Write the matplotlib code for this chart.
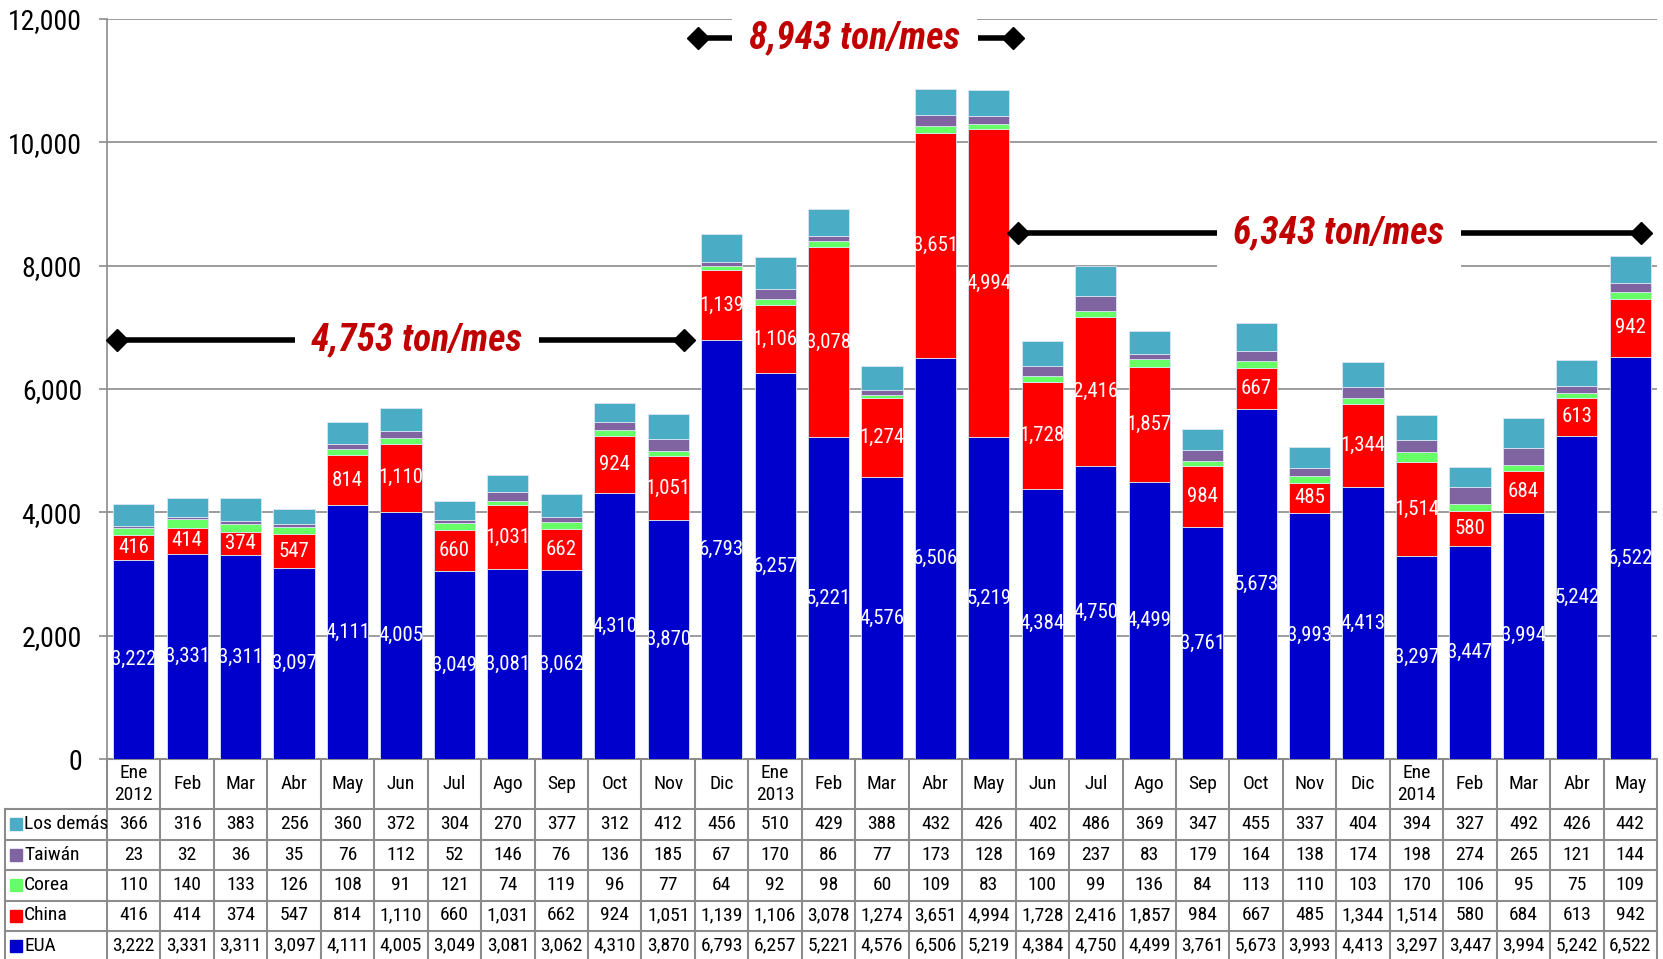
import matplotlib
matplotlib.use('Agg')
import matplotlib.pyplot as plt
from matplotlib import font_manager
from matplotlib.lines import Line2D
from matplotlib.transforms import blended_transform_factory
from matplotlib.ticker import FuncFormatter, MultipleLocator
import numpy as np

# ---------------- data ----------------
months = ['Ene\n2012', 'Feb', 'Mar', 'Abr', 'May', 'Jun', 'Jul', 'Ago', 'Sep', 'Oct', 'Nov', 'Dic',
          'Ene\n2013', 'Feb', 'Mar', 'Abr', 'May', 'Jun', 'Jul', 'Ago', 'Sep', 'Oct', 'Nov', 'Dic',
          'Ene\n2014', 'Feb', 'Mar', 'Abr', 'May']
eua = [3222, 3331, 3311, 3097, 4111, 4005, 3049, 3081, 3062, 4310, 3870, 6793,
       6257, 5221, 4576, 6506, 5219, 4384, 4750, 4499, 3761, 5673, 3993, 4413,
       3297, 3447, 3994, 5242, 6522]
china = [416, 414, 374, 547, 814, 1110, 660, 1031, 662, 924, 1051, 1139,
         1106, 3078, 1274, 3651, 4994, 1728, 2416, 1857, 984, 667, 485, 1344,
         1514, 580, 684, 613, 942]
corea = [110, 140, 133, 126, 108, 91, 121, 74, 119, 96, 77, 64,
         92, 98, 60, 109, 83, 100, 99, 136, 84, 113, 110, 103,
         170, 106, 95, 75, 109]
taiwan = [23, 32, 36, 35, 76, 112, 52, 146, 76, 136, 185, 67,
          170, 86, 77, 173, 128, 169, 237, 83, 179, 164, 138, 174,
          198, 274, 265, 121, 144]
los_demas = [366, 316, 383, 256, 360, 372, 304, 270, 377, 312, 412, 456,
             510, 429, 388, 432, 426, 402, 486, 369, 347, 455, 337, 404,
             394, 327, 492, 426, 442]

series_names = ['EUA', 'China', 'Corea', 'Taiwán', 'Los demás']
series_values = [eua, china, corea, taiwan, los_demas]
series_colors = ['#0000CC', '#FF0000', '#66FF66', '#8064A2', '#4BACC6']

# period averages: label, y level, x range (left/right end), text centre
period_labels = ['4,753 ton/mes', '8,943 ton/mes', '6,343 ton/mes']
period_y = [6800, 11700, 8530]
period_x0 = [-0.32, 10.56, 16.55]
period_x1 = [10.30, 16.45, 28.21]
period_gap = [(3.01, 7.58), (11.19, 15.79), (20.26, 24.84)]
period_xtext = [5.30, 13.49, 22.55]

# ---------------- fonts ----------------
def pick_font(names):
    for nm in names:
        try:
            font_manager.findfont(font_manager.FontProperties(family=nm), fallback_to_default=False)
            return nm
        except Exception:
            pass
    return 'DejaVu Sans'

NARROW = pick_font(['Roboto Condensed', 'Archivo Narrow', 'Liberation Sans'])
plt.rcParams['font.family'] = [NARROW, 'DejaVu Sans']

W, H = 1663, 959
fig = plt.figure(figsize=(W / 100, H / 100), dpi=100)
L, R, T, B = 107, 1657, 19, 759
ax = fig.add_axes([L / W, 1 - B / H, (R - L) / W, (B - T) / H])

n = len(months)
x = np.arange(n)
bottom = np.zeros(n)
for name, vals, col in zip(series_names, series_values, series_colors):
    vals = np.array(vals, dtype=float)
    ax.bar(x, vals, width=0.77, bottom=bottom, color=col, edgecolor='#d9e6f0',
           linewidth=0.6, zorder=3)
    if name in ('EUA', 'China'):
        for xi, b, v in zip(x, bottom, vals):
            ax.text(xi, b + v / 2, f'{int(v):,}', ha='center', va='center', color='white',
                    fontsize=15, zorder=5)
    bottom += vals

ax.set_xlim(-0.5, n - 0.5)
ax.set_ylim(0, 12000)
ax.yaxis.set_major_locator(MultipleLocator(2000))
ax.yaxis.set_major_formatter(FuncFormatter(lambda v, p: f'{int(v):,}'))
ax.tick_params(axis='y', labelsize=20, length=6, width=1.2, color='#8c8c8c', pad=12)
ax.tick_params(axis='x', bottom=False, labelbottom=False)
ax.grid(axis='y', color='#8c8c8c', linewidth=1.2, zorder=0)
ax.set_axisbelow(True)
for s in ['top', 'right']:
    ax.spines[s].set_visible(False)
ax.spines['left'].set_color('#8c8c8c')
ax.spines['left'].set_linewidth(1.2)
ax.spines['bottom'].set_color('#8c8c8c')
ax.spines['bottom'].set_linewidth(1.5)

# period annotations
for lab, y, x0, x1, (g0, g1), xt in zip(period_labels, period_y, period_x0, period_x1,
                                         period_gap, period_xtext):
    ax.plot([x0, g0], [y, y], color='black', lw=4, solid_capstyle='butt', zorder=6, clip_on=False)
    ax.plot([g1, x1], [y, y], color='black', lw=4, solid_capstyle='butt', zorder=6, clip_on=False)
    ax.plot([x0, x1], [y, y], linestyle='none', marker='D', markersize=11, color='black',
            zorder=6, clip_on=False)
    ax.text(xt, y, lab, ha='center', va='center', color='#C00000', fontsize=27,
            fontweight='bold', fontstyle='italic', zorder=7,
            bbox=dict(boxstyle='square,pad=0.45', facecolor='white', edgecolor='none'))

# ---------------- data table ----------------
tr = blended_transform_factory(ax.transData, fig.transFigure)
trf = fig.transFigure
def fy(p):
    return 1 - p / H

row_edges = [759, 809, 839.5, 870, 900.5, 930.5, 961]
grid_col = '#8c8c8c'
lw_t = 1.5
for p in row_edges[1:]:
    fig.add_artist(Line2D([5 / W, R / W], [fy(p), fy(p)], transform=trf, color=grid_col, lw=lw_t))
for i in range(n + 1):
    fig.add_artist(Line2D([i - 0.5, i - 0.5], [fy(759), fy(961)], transform=tr,
                          color=grid_col, lw=lw_t))
fig.add_artist(Line2D([5 / W, 5 / W], [fy(809), fy(961)], transform=trf, color=grid_col, lw=lw_t))

for i, m in enumerate(months):
    fig.text(i, fy((759 + 809) / 2), m, transform=tr, ha='center', va='center',
             fontsize=14, linespacing=1.25)

table_rows = list(reversed(list(zip(series_names, series_values, series_colors))))
for r, (name, vals, col) in enumerate(table_rows):
    yc = fy((row_edges[r + 1] + row_edges[r + 2]) / 2)
    fig.add_artist(Line2D([16 / W], [yc], transform=trf, marker='s', markersize=8,
                          color=col, linestyle='none'))
    fig.text(24 / W, yc, name, transform=trf, ha='left', va='center', fontsize=14)
    for i, v in enumerate(vals):
        fig.text(i, yc, f'{v:,}', transform=tr, ha='center', va='center', fontsize=14)

fig.savefig('out.png', dpi=100)
